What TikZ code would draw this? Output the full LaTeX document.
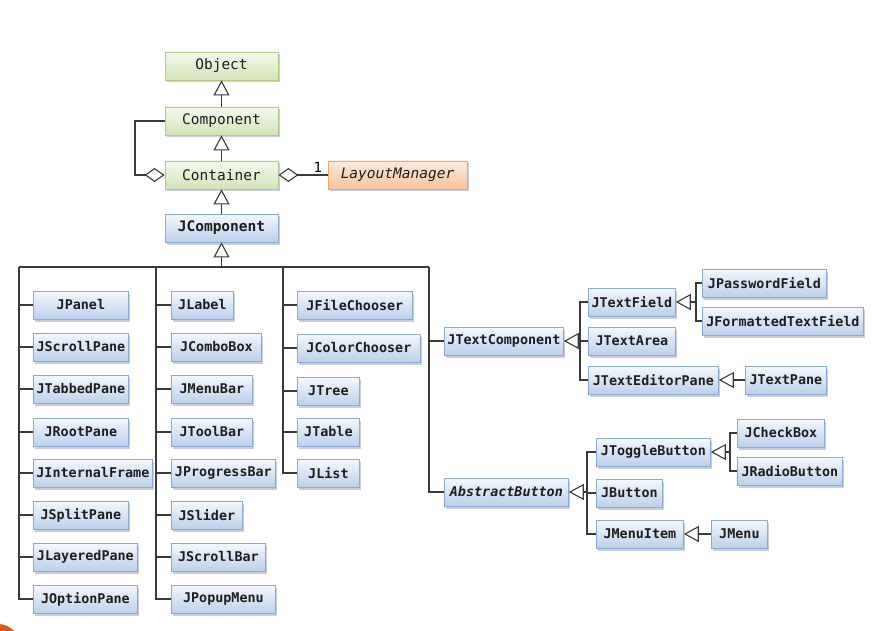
\documentclass[tikz,border=0pt]{standalone}
\usepackage{fontspec}
\setmonofont{DejaVu Sans Mono}
\usetikzlibrary{arrows.meta,shadows,positioning}

\definecolor{greentop}{HTML}{F4F9EC}
\definecolor{greenbot}{HTML}{D3E3B8}
\definecolor{greenline}{HTML}{B2CA8C}
\definecolor{bluetop}{HTML}{F5F8FD}
\definecolor{bluebot}{HTML}{BBD0EC}
\definecolor{blueline}{HTML}{8DA8D3}
\definecolor{orangetop}{HTML}{FDEBDD}
\definecolor{orangebot}{HTML}{F9C29A}
\definecolor{orangeline}{HTML}{F2A46E}
\definecolor{linecol}{HTML}{3A3A3A}
\definecolor{textcol}{HTML}{1E1E1E}
\definecolor{slidedot}{HTML}{DD5A1E}

\tikzset{
  cls/.style={draw=blueline, line width=0.8pt, top color=bluetop, bottom color=bluebot,
    minimum height=28pt, inner xsep=3pt, inner ysep=0pt, anchor=west, text=textcol,
    font=\ttfamily\bfseries\fontsize{13.4}{15}\selectfont,
    drop shadow={shadow xshift=2pt, shadow yshift=-2.5pt, opacity=0.35, fill=blueline!70!black}},
  topcls/.style={cls, anchor=center, minimum width=113pt},
  basecls/.style={topcls, draw=greenline, top color=greentop, bottom color=greenbot,
    font=\ttfamily\fontsize{14.5}{16}\selectfont},
  iface/.style={cls, anchor=center, draw=orangeline, top color=orangetop, bottom color=orangebot,
    font=\ttfamily\itshape\fontsize{14.5}{16}\selectfont},
  tree/.style={draw=linecol, line width=1.1pt},
  inherit/.style={tree, -{Triangle[length=15pt, width=16pt, fill=white]}},
  agg/.style={tree, -{Diamond[length=20pt, width=14pt, fill=white]}},
}

\begin{document}
\begin{tikzpicture}[x=1pt, y=-1pt]
  \useasboundingbox (0,0) rectangle (886,631);

  % top of the hierarchy
  \node[basecls] (Object)    at (221.5,66)  {Object};
  \node[basecls] (Component) at (221.5,121) {Component};
  \node[basecls] (Container) at (221.5,175) {Container};
  \node[topcls, font=\ttfamily\bfseries\fontsize{14.5}{16}\selectfont] (JComponent) at (221.5,228) {JComponent};
  \node[iface, minimum width=139pt] (LayoutManager) at (397.5,175) {LayoutManager};

  \draw[inherit] (Component) -- (Object);
  \draw[inherit] (Container) -- (Component);
  \draw[inherit] (JComponent) -- (Container);
  \coordinate (aggc) at (135,148);
  \draw[agg] (Component.west) -| (aggc) |- (Container.west);
  \draw[agg] (LayoutManager) -- node[pos=0.2, above, inner sep=1pt, yshift=1pt,
    font=\ttfamily\fontsize{14}{16}\selectfont] {1} (Container);

  % bus below JComponent
  \coordinate (b1) at (19,267);
  \coordinate (b2) at (156,267);
  \coordinate (b3) at (283,267);
  \coordinate (b4) at (429,267);
  \coordinate (bj) at (221.5,267);
  \draw[tree] (b1) -- (b4);
  \draw[inherit] (bj) -- (JComponent);

  % first column
  \foreach \n/\y/\w in {JPanel/305/95, JScrollPane/347/95, JTabbedPane/389/95,
      JRootPane/432/95, JInternalFrame/473/119, JSplitPane/515/95,
      JLayeredPane/557/104, JOptionPane/599/104}{
    \node[cls, minimum width=\w pt] (\n) at (33,\y) {\n};
    \draw[tree] (b1) |- (\n.west);
  }

  % second column
  \foreach \n/\y/\w in {JLabel/305/62, JComboBox/347/90, JMenuBar/389/81,
      JToolBar/432/81, JProgressBar/473/104, JSlider/515/71,
      JScrollBar/557/94, JPopupMenu/599/104}{
    \node[cls, minimum width=\w pt] (\n) at (171,\y) {\n};
    \draw[tree] (b2) |- (\n.west);
  }

  % third column
  \foreach \n/\y/\w in {JFileChooser/305/115, JColorChooser/348/123,
      JTree/391/62, JTable/432/62, JList/473/62}{
    \node[cls, minimum width=\w pt] (\n) at (297,\y) {\n};
    \draw[tree] (b3) |- (\n.west);
  }

  % text components
  \node[cls, minimum width=119pt] (JTextComponent) at (444,341) {JTextComponent};
  \draw[tree] (b4) |- (JTextComponent.west);
  \coordinate (tc) at (580,341);
  \draw[inherit] (tc) -- (JTextComponent);
  \foreach \n/\y/\w in {JTextField/302/87, JTextArea/341/87, JTextEditorPane/380/130}{
    \node[cls, minimum width=\w pt] (\n) at (588,\y) {\n};
    \draw[tree] (tc) |- (\n.west);
  }

  \coordinate (tf) at (696,302);
  \draw[inherit] (tf) -- (JTextField);
  \foreach \n/\y/\w in {JPasswordField/283/124, JFormattedTextField/321/161}{
    \node[cls, minimum width=\w pt] (\n) at (702,\y) {\n};
    \draw[tree] (tf) |- (\n.west);
  }

  \node[cls, minimum width=81pt] (JTextPane) at (745,380) {JTextPane};
  \draw[inherit] (JTextPane) -- (JTextEditorPane);

  % buttons
  \node[cls, minimum width=124pt, font=\ttfamily\bfseries\itshape\fontsize{13.4}{15}\selectfont]
    (AbstractButton) at (444,492) {AbstractButton};
  \draw[tree] (b4) |- (AbstractButton.west);
  \coordinate (ab) at (587,492);
  \draw[inherit] (ab) -- (AbstractButton);
  \foreach \n/\y/\w in {JToggleButton/452/114, JButton/493/66, JMenuItem/534/87}{
    \node[cls, minimum width=\w pt] (\n) at (596,\y) {\n};
    \draw[tree] (ab) |- (\n.west);
  }

  \coordinate (tb) at (730,452);
  \draw[inherit] (tb) -- (JToggleButton);
  \foreach \n/\y/\w in {JCheckBox/433/87, JRadioButton/471/105}{
    \node[cls, minimum width=\w pt] (\n) at (737,\y) {\n};
    \draw[tree] (tb) |- (\n.west);
  }

  \node[cls, minimum width=56pt] (JMenu) at (711,534) {JMenu};
  \draw[inherit] (JMenu) -- (JMenuItem);

  % slide corner mark
  \fill[slidedot] (-2,646) circle (22);
\end{tikzpicture}
\end{document}
